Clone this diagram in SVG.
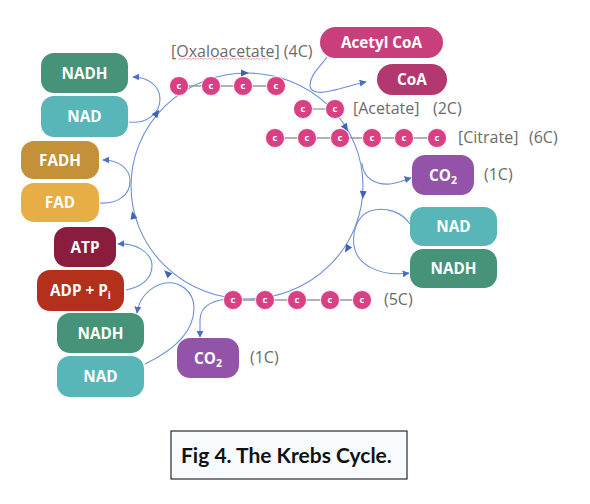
<svg xmlns="http://www.w3.org/2000/svg" xmlns:xlink="http://www.w3.org/1999/xlink" width="590" height="504" viewBox="0 0 590 504">
<defs>
<style>
.node text{font-family:"Open Sans","Liberation Sans",sans-serif;font-weight:700;font-size:15.3px;fill:#fff;text-anchor:middle}
.lbl{font-family:"Open Sans","Liberation Sans",sans-serif;font-size:16px;fill:#6b6b6b}
.conn path{fill:none;stroke:#6b8fd8;stroke-width:1.1}
.ca{marker-end:url(#ah)}
.bond{stroke:#999;stroke-width:1.3}
.cc{fill:#da3f84;stroke:#fff;stroke-width:0.8}
.ct{font-family:"Open Sans","Liberation Sans",sans-serif;font-weight:700;font-size:9.5px;fill:#fff;text-anchor:middle}
</style>
<marker id="ah" viewBox="0 0 10 10" refX="9" refY="5" markerWidth="7" markerHeight="7" markerUnits="userSpaceOnUse" orient="auto">
<path d="M0,0 L10,5 L0,10 z" fill="#4a6fc4"/>
</marker>
<path id="tri" d="M-4,-3.5 L4,0 L-4,3.5 z" fill="#3d63b8"/>
<g id="carb"><circle class="cc" r="9.5"/><text class="ct" y="3.3">c</text></g>
</defs>
<rect width="590" height="504" fill="#fff"/>

<g id="connectors" class="conn">
<ellipse cx="247" cy="186" rx="116" ry="113" fill="none" stroke="#6b8fd8" stroke-width="1.1"/>
<path class="ca" d="M129,122 C146,124 160,114 160,99 C160,86 148,77 133,77"/>
<path class="ca" d="M100,203 C118,204 130,195 130,181 C130,168 118,160 103,160"/>
<path class="ca" d="M126,290 C142,287 152,278 152,266 C152,252 135,243 118,244"/>
<path class="ca" d="M145,364 C170,352 194,335 194,308 C194,290 178,281 165,283 C150,286 139,298 137,313"/>
<path class="ca" d="M232,299 C215,299 200,305 200,320 L200,337"/>
<path class="ca" d="M362,163 C363,178 375,185 390,184 C398,183 404,180 411,178"/>
<path class="ca" d="M410,224 C402,212 385,206 370,211 C357,216 352,232 354,246 C357,265 380,277 409,273"/>
<path d="M327,57 C320,67 310,75 310,85 C310,92 318,94 330,91"/>
<path class="ca" d="M330,91 C345,88 355,84 366,82"/>
<use xlink:href="#tri" transform="translate(245,73) rotate(0)"/>
<use xlink:href="#tri" transform="translate(346,128) rotate(58)"/>
<use xlink:href="#tri" transform="translate(363,195) rotate(94)"/>
<use xlink:href="#tri" transform="translate(347,249) rotate(122)"/>
<use xlink:href="#tri" transform="translate(167,273) rotate(223)"/>
<use xlink:href="#tri" transform="translate(133,215) rotate(256)"/>
<use xlink:href="#tri" transform="translate(157,113) rotate(-52)"/>
</g>

<g id="oxaloacetate">
<line class="bond" x1="179" y1="86" x2="276" y2="86"/>
<use xlink:href="#carb" x="179" y="86"/><use xlink:href="#carb" x="211" y="86"/><use xlink:href="#carb" x="243" y="86"/><use xlink:href="#carb" x="276" y="86"/>
<text class="lbl" x="171" y="57">[Oxaloacetate] (4C)</text>
<path d="M179,59.5 l2,-1.5 l2,1.5 l2,-1.5 l2,1.5 l2,-1.5 l2,1.5 l2,-1.5 l2,1.5 l2,-1.5 l2,1.5 l2,-1.5 l2,1.5 l2,-1.5 l2,1.5 l2,-1.5 l2,1.5 l2,-1.5 l2,1.5 l2,-1.5 l2,1.5 l2,-1.5 l2,1.5 l2,-1.5 l2,1.5 l2,-1.5 l2,1.5 l2,-1.5 l2,1.5 l2,-1.5 l2,1.5 l2,-1.5 l2,1.5 l2,-1.5 l2,1.5 l2,-1.5 l2,1.5 l2,-1.5 l2,1.5 l2,-1.5 l2,1.5 l2,-1.5 l2,1.5 l2,-1.5 l2,1.5 l2,-1.5" fill="none" stroke="#e04848" stroke-width="0.8" stroke-dasharray="1.2 0.8"/>
</g>

<g id="acetate">
<line class="bond" x1="303" y1="109" x2="335" y2="109"/>
<use xlink:href="#carb" x="303" y="109"/><use xlink:href="#carb" x="335" y="109"/>
<text class="lbl" x="353" y="114">[Acetate]</text>
<text class="lbl" x="433" y="114">(2C)</text>
</g>

<g id="citrate">
<line class="bond" x1="275" y1="138" x2="437" y2="138"/>
<use xlink:href="#carb" x="275" y="138"/><use xlink:href="#carb" x="307" y="138"/><use xlink:href="#carb" x="340" y="138"/><use xlink:href="#carb" x="372" y="138"/><use xlink:href="#carb" x="404" y="138"/><use xlink:href="#carb" x="437" y="138"/>
<text class="lbl" x="458" y="143">[Citrate]</text>
<text class="lbl" x="529" y="143">(6C)</text>
</g>

<g id="ketoglutarate">
<line class="bond" x1="233" y1="300" x2="362" y2="300"/>
<use xlink:href="#carb" x="233" y="300"/><use xlink:href="#carb" x="265" y="300"/><use xlink:href="#carb" x="297" y="300"/><use xlink:href="#carb" x="330" y="300"/><use xlink:href="#carb" x="362" y="300"/>
<text class="lbl" x="384" y="305">(5C)</text>
</g>

<g id="acetylcoa" class="node"><rect x="320" y="27" width="123" height="31" rx="15.5" fill="#c93f7c"/><text x="381.5" y="48">Acetyl CoA</text></g>
<g id="coa" class="node"><rect x="377" y="64" width="70" height="31" rx="15.5" fill="#b3386f"/><text x="412" y="85">CoA</text></g>

<g id="nadh1" class="node"><rect x="41" y="53" width="87" height="40" rx="13" fill="#46937a"/><text x="84.5" y="78.5">NADH</text></g>
<g id="nad1" class="node"><rect x="41" y="96" width="87" height="41" rx="13" fill="#58b6b9"/><text x="84.5" y="122">NAD</text></g>
<g id="fadh" class="node"><rect x="21" y="141" width="78" height="38" rx="13" fill="#c49038"/><text x="60" y="165.5">FADH</text></g>
<g id="fad" class="node"><rect x="21" y="183" width="78" height="39" rx="13" fill="#e7ae46"/><text x="60" y="208">FAD</text></g>
<g id="atp" class="node"><rect x="54" y="227" width="62" height="40" rx="13" fill="#8a1c3e"/><text x="85" y="252.5">ATP</text></g>
<g id="adp" class="node"><rect x="37" y="270" width="87" height="41" rx="13" fill="#b3301d"/><text x="80.5" y="296">ADP + P<tspan font-size="10" dy="3">i</tspan></text></g>
<g id="nadh2" class="node"><rect x="57" y="313" width="87" height="40" rx="13" fill="#46937a"/><text x="100.5" y="338.5">NADH</text></g>
<g id="nad2" class="node"><rect x="57" y="356" width="87" height="41" rx="13" fill="#58b6b9"/><text x="100.5" y="382">NAD</text></g>
<g id="co2b" class="node"><rect x="177" y="338" width="62" height="40" rx="13" fill="#9353a8"/><text x="208" y="363.5">CO<tspan font-size="10.5" dy="3">2</tspan></text></g>
<text class="lbl" x="250" y="363">(1C)</text>
<g id="co2r" class="node"><rect x="412" y="155" width="62" height="40" rx="13" fill="#9353a8"/><text x="443" y="180.5">CO<tspan font-size="10.5" dy="3">2</tspan></text></g>
<text class="lbl" x="484" y="180">(1C)</text>
<g id="nad3" class="node"><rect x="410" y="207" width="87" height="39" rx="13" fill="#58b6b9"/><text x="453.5" y="232">NAD</text></g>
<g id="nadh3" class="node"><rect x="410" y="249" width="87" height="39" rx="13" fill="#46937a"/><text x="453.5" y="274">NADH</text></g>

<g id="caption">
<rect x="171" y="431" width="236" height="48" fill="#f7fbfd" stroke="#000" stroke-width="1"/>
<text x="181" y="463" font-family="Lato,'Liberation Sans',sans-serif" font-weight="700" font-size="21" fill="#111">Fig 4. The Krebs Cycle.</text>
</g>
</svg>
